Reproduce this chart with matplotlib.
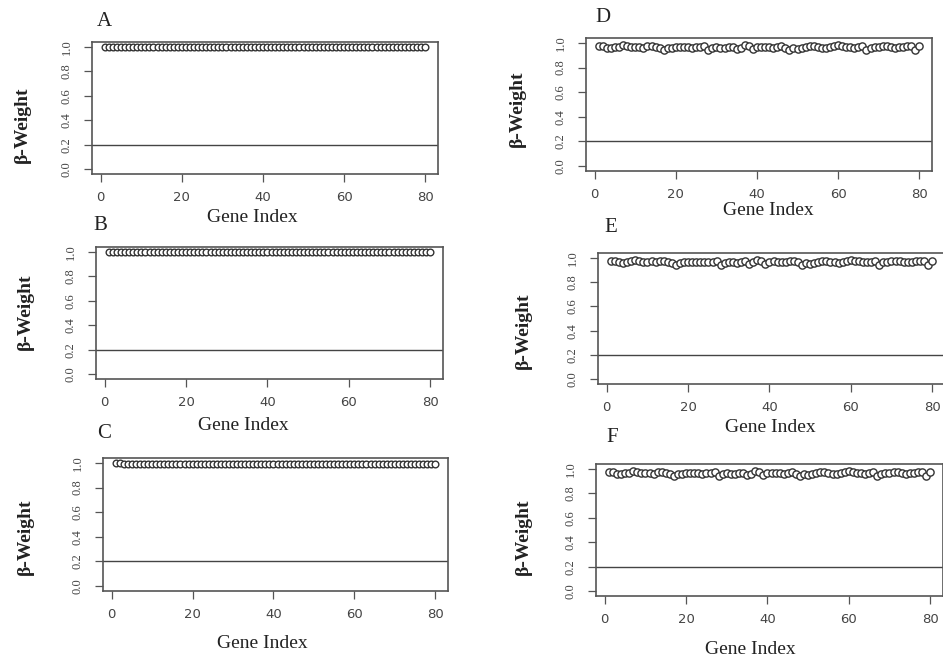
import numpy as np
import matplotlib.pyplot as plt

# Indice dos genes (1..80)
gene_index = np.arange(1, 81)

# Pesos beta
beta_a = [1.0] * 80
beta_b = [1.0] * 80
beta_c = [1.0, 1.0] + [0.99] * 78
beta_d = [0.975, 0.972, 0.962, 0.958, 0.965, 0.970, 0.985, 0.972, 0.968, 0.966,
          0.970, 0.962, 0.978, 0.972, 0.965, 0.958, 0.945, 0.955, 0.962, 0.966,
          0.968, 0.965, 0.964, 0.962, 0.966, 0.968, 0.975, 0.945, 0.960, 0.965,
          0.962, 0.958, 0.966, 0.970, 0.952, 0.962, 0.980, 0.972, 0.950, 0.966,
          0.970, 0.968, 0.965, 0.962, 0.970, 0.975, 0.962, 0.945, 0.955, 0.948,
          0.960, 0.966, 0.972, 0.975, 0.968, 0.962, 0.955, 0.966, 0.972, 0.980,
          0.974, 0.970, 0.966, 0.962, 0.968, 0.972, 0.942, 0.962, 0.966, 0.970,
          0.975, 0.978, 0.966, 0.962, 0.966, 0.970, 0.972, 0.975, 0.945, 0.978]
beta_e = beta_d
beta_f = beta_d

threshold = 0.2
x_ticks = [0, 20, 40, 60, 80]
y_ticks = [0.0, 0.2, 0.4, 0.6, 0.8, 1.0]

W, H = 943, 662
fig = plt.figure(figsize=(W / 100, H / 100), dpi=100)

# (letra, dados, caixa em px [esq, topo, dir, base], tamanho marcador,
#  pos. letra, pos. ylabel, pos. xlabel)
panels = [
    ("A", beta_a, (92, 42, 438, 174), 4.8, (97, 22), (22, 125), (252, 217)),
    ("B", beta_b, (96, 247, 443, 379), 4.8, (93, 226), (25, 312), (243, 425)),
    ("C", beta_c, (103, 458, 448, 591), 4.8, (97, 433), (25, 537), (262, 643)),
    ("D", beta_d, (586, 38, 932, 171), 5.2, (595, 17), (517, 109), (768, 211)),
    ("E", beta_e, (598, 253, 945, 384), 5.2, (604, 228), (523, 331), (770, 428)),
    ("F", beta_f, (596, 464, 943, 596), 5.2, (606, 438), (523, 537), (750, 650)),
]

edge = "#555555"
for letter, vals, (l, t, r, b), ms, lpos, ypos, xpos in panels:
    ax = fig.add_axes([l / W, 1 - b / H, (r - l) / W, (b - t) / H])
    ax.plot(gene_index, vals, linestyle="none", marker="o", markersize=ms,
            markerfacecolor="white", markeredgecolor="#333333", markeredgewidth=1.0)
    ax.axhline(threshold, color="#444444", linewidth=1.0)
    ax.set_xlim(-2.16, 83.16)
    ax.set_ylim(-0.04, 1.04)
    ax.set_xticks(x_ticks)
    ax.set_yticks(y_ticks)
    ax.set_xticklabels([str(v) for v in x_ticks], fontsize=9.5, color="#444444",
                       family="DejaVu Sans")
    ax.set_yticklabels([f"{v:.1f}" for v in y_ticks], fontsize=9, color="#444444",
                       rotation=90, va="center", family="Liberation Serif")
    ax.tick_params(axis="x", length=6, width=0.9, color=edge, pad=6)
    ax.tick_params(axis="y", length=6, width=0.9, color=edge, pad=8)
    for sp in ax.spines.values():
        sp.set_color(edge)
        sp.set_linewidth(1.2)

    fig.text(lpos[0] / W, 1 - lpos[1] / H, letter, fontsize=15, family="Liberation Serif",
             ha="left", va="center", color="#222222")
    fig.text(ypos[0] / W, 1 - ypos[1] / H, "β-Weight", fontsize=14, family="Liberation Serif",
             fontweight="bold", rotation=90, ha="center", va="center", color="#222222")
    fig.text(xpos[0] / W, 1 - xpos[1] / H, "Gene Index", fontsize=14, family="Liberation Serif",
             ha="center", va="center", color="#222222")

fig.savefig("out.png", dpi=100)
